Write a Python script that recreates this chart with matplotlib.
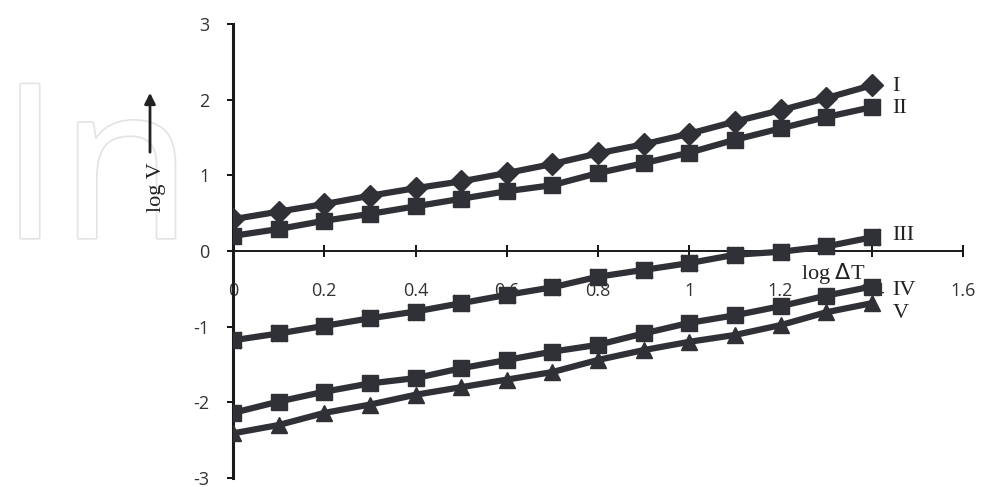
import matplotlib
matplotlib.use('Agg')
import matplotlib.pyplot as plt
import matplotlib.patheffects as pe

# log dT values (shared by all curves)
logdT = [0, 0.1, 0.2, 0.3, 0.4, 0.5, 0.6, 0.7, 0.8, 0.9, 1.0, 1.1, 1.2, 1.3, 1.4]

# log V for the five curves
curve_I = [0.42, 0.52, 0.62, 0.73, 0.83, 0.92, 1.03, 1.15, 1.29, 1.41, 1.55, 1.71, 1.86, 2.02, 2.19]
curve_II = [0.20, 0.29, 0.40, 0.49, 0.59, 0.69, 0.79, 0.87, 1.03, 1.16, 1.30, 1.47, 1.62, 1.77, 1.90]
curve_III = [-1.18, -1.09, -0.99, -0.89, -0.80, -0.69, -0.58, -0.48, -0.34, -0.25, -0.16, -0.05, -0.01, 0.06, 0.18]
curve_IV = [-2.14, -1.99, -1.86, -1.75, -1.68, -1.55, -1.44, -1.33, -1.24, -1.09, -0.95, -0.85, -0.73, -0.59, -0.47]
curve_V = [-2.41, -2.30, -2.14, -2.03, -1.90, -1.80, -1.70, -1.60, -1.44, -1.31, -1.20, -1.11, -0.98, -0.81, -0.69]

names = ['I', 'II', 'III', 'IV', 'V']
xticks = [0, 0.2, 0.4, 0.6, 0.8, 1, 1.2, 1.4, 1.6]
yticks = [-3, -2, -1, 0, 1, 2, 3]

col = '#303136'

fig = plt.figure(figsize=(9.81, 4.87), dpi=100)

# faint "In" watermark on the left
wm = fig.text(0.0, 1 - 238/487, 'In', fontsize=155, family='Open Sans', color='white',
              va='baseline', ha='left', zorder=0)
wm.set_path_effects([pe.withStroke(linewidth=2.5, foreground='#e4e4e4')])

ax = fig.add_axes([233/981, 1 - 478/487, (963 - 233)/981, (478 - 24)/487])
ax.patch.set_alpha(0)

lw = 4.5
ax.plot(logdT, curve_I, color=col, lw=lw, marker='D', ms=11, zorder=3)
ax.plot(logdT, curve_II, color=col, lw=lw, marker='s', ms=12, zorder=3)
ax.plot(logdT, curve_III, color=col, lw=lw, marker='s', ms=11, zorder=3)
ax.plot(logdT, curve_III, color=col, lw=0, marker='x', ms=11, mew=2, zorder=3)
ax.plot(logdT, curve_IV, color=col, lw=lw, marker='s', ms=12, zorder=3)
ax.plot(logdT, curve_V, color=col, lw=lw, marker='^', ms=12, zorder=3)

ax.set_xlim(0, 1.6)
ax.set_ylim(-3, 3)
ax.spines['left'].set_position(('data', 0))
ax.spines['bottom'].set_position(('data', 0))
ax.spines['top'].set_visible(False)
ax.spines['right'].set_visible(False)
ax.spines['left'].set_linewidth(2.2)
ax.spines['left'].set_color('#1a1a1a')
ax.spines['bottom'].set_linewidth(1.4)
ax.spines['bottom'].set_color('#1a1a1a')

ax.set_xticks(xticks)
ax.set_xticklabels(['0', '0.2', '0.4', '0.6', '0.8', '1', '1.2', '1.4', '1.6'])
ax.set_yticks(yticks)
ax.set_yticklabels([str(v) for v in yticks])
ax.tick_params(axis='x', direction='inout', length=8, width=1.3, pad=18,
               labelsize=13, labelcolor='#333333')
ax.tick_params(axis='y', direction='out', length=4, width=1.3, pad=13,
               labelsize=13, labelcolor='#333333')
for lab in ax.get_xticklabels() + ax.get_yticklabels():
    lab.set_family('Open Sans')

# curve labels
label_y = [2.18, 1.88, 0.21, -0.52, -0.82]
for name, ly in zip(names, label_y):
    ax.text(1.445, ly, name, family='Liberation Serif', fontsize=16, color='#222222',
            va='center', ha='left')

ax.text(1.315, -0.30, r'log $\Delta$T', family='Liberation Serif', fontsize=16,
        color='#222222', va='center', ha='center')

# y label with arrow pointing up
fig.text(157/981, 1 - 187/487, 'log V', family='Liberation Serif', fontsize=16,
         color='#222222', rotation=90, va='center', ha='center')
fig.add_artist(matplotlib.patches.FancyArrowPatch(
    (150/981, 1 - 155/487), (150/981, 1 - 90/487), transform=fig.transFigure,
    arrowstyle='-|>', mutation_scale=16, lw=2, color='#222222'))

fig.savefig('out.png', dpi=100)
